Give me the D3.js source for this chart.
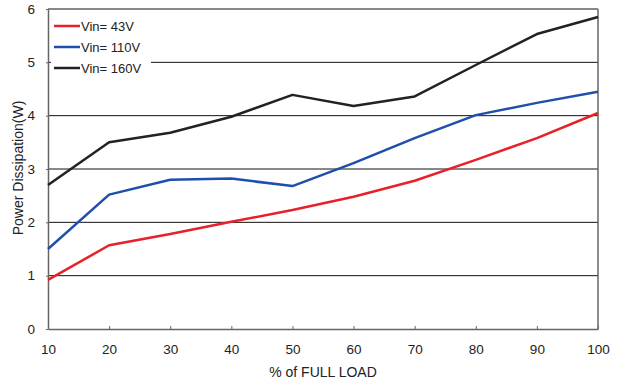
<!DOCTYPE html>
<html>
<head>
<meta charset="utf-8">
<script src="https://cdn.jsdelivr.net/npm/d3@7"></script>
<style>
body { margin: 0; background: #fff; }
text { font-family: "Liberation Sans", Arial, sans-serif; fill: #222; }
</style>
</head>
<body>
<div id="chart"></div>
<script>
// data
var loads = [10, 20, 30, 40, 50, 60, 70, 80, 90, 100];
var vin43 = [0.92, 1.57, 1.78, 2.01, 2.23, 2.48, 2.78, 3.17, 3.58, 4.05];
var vin110 = [1.5, 2.52, 2.8, 2.82, 2.68, 3.11, 3.58, 4.01, 4.24, 4.45];
var vin160 = [2.7, 3.5, 3.68, 3.98, 4.39, 4.18, 4.36, 4.95, 5.53, 5.85];
var seriesNames = ["Vin= 43V", "Vin= 110V", "Vin= 160V"];
var seriesColors = ["#e8202a", "#1f4fad", "#222222"];
var yTicks = [0, 1, 2, 3, 4, 5, 6];

var width = 617, height = 382;
var margin = { left: 48, right: 19, top: 9, bottom: 53 };
var font = "Liberation Sans, Arial, sans-serif";

var svg = d3.select("#chart").append("svg")
    .attr("width", width)
    .attr("height", height);

var x = d3.scaleLinear().domain([10, 100]).range([margin.left, width - margin.right]);
var y = d3.scaleLinear().domain([0, 6]).range([height - margin.bottom, margin.top]);

// horizontal grid + top border
svg.append("g")
   .selectAll("line")
   .data(yTicks.slice(1))
   .enter()
   .append("line")
   .attr("x1", x(10)).attr("x2", x(100))
   .attr("y1", d => y(d)).attr("y2", d => y(d))
   .attr("stroke", "#111")
   .attr("stroke-width", 1);

// right border
svg.append("line")
   .attr("x1", x(100)).attr("x2", x(100))
   .attr("y1", y(0)).attr("y2", y(6))
   .attr("stroke", "#666").attr("stroke-width", 1.5);

// x axis, ticks pointing up
var xAxis = svg.append("g")
    .attr("transform", "translate(0," + y(0) + ")")
    .call(d3.axisBottom(x).tickValues(loads).tickSizeInner(-3).tickSizeOuter(0).tickPadding(15));
xAxis.select(".domain").attr("stroke", "#666").attr("stroke-width", 1.5);
xAxis.selectAll(".tick line").attr("stroke", "#666");
xAxis.selectAll("text").attr("font-size", 13.5).attr("fill", "#222")
     .attr("font-family", font);

// y axis
var yAxis = svg.append("g")
    .attr("transform", "translate(" + x(10) + ",0)")
    .call(d3.axisLeft(y).tickValues(yTicks).tickFormat(d3.format("d"))
            .tickSizeInner(2).tickSizeOuter(0).tickPadding(11));
yAxis.select(".domain").attr("stroke", "#666").attr("stroke-width", 1.5);
yAxis.selectAll(".tick line").attr("stroke", "#666");
yAxis.selectAll("text").attr("font-size", 13.5).attr("fill", "#222")
     .attr("font-family", font);

// lines
var allSeries = [vin43, vin110, vin160];
var line = d3.line()
    .x((d, i) => x(loads[i]))
    .y(d => y(d));

svg.append("g")
   .selectAll("path")
   .data(allSeries)
   .enter()
   .append("path")
   .attr("d", d => line(d))
   .attr("fill", "none")
   .attr("stroke", (d, i) => seriesColors[i])
   .attr("stroke-width", 2.5)
   .attr("stroke-linejoin", "round");

// legend
var legend = svg.append("g").attr("transform", "translate(51,13)");
legend.append("rect")
      .attr("width", 100).attr("height", 63)
      .attr("fill", "#fff");
var item = legend.selectAll("g.item")
    .data(seriesNames)
    .enter()
    .append("g")
    .attr("class", "item")
    .attr("transform", (d, i) => "translate(0," + (13 + i * 21) + ")");
item.append("line")
    .attr("x1", 3).attr("x2", 29)
    .attr("stroke", (d, i) => seriesColors[i])
    .attr("stroke-width", 2.5);
item.append("text")
    .attr("x", 30).attr("y", 4.5)
    .attr("font-size", 13)
    .text(d => d);

// axis titles
svg.append("text")
   .attr("x", (x(10) + x(100)) / 2).attr("y", 377)
   .attr("text-anchor", "middle")
   .attr("font-size", 14)
   .text("% of FULL LOAD");

svg.append("text")
   .attr("transform", "translate(23,168) rotate(-90)")
   .attr("text-anchor", "middle")
   .attr("font-size", 14)
   .text("Power Dissipation(W)");
</script>
</body>
</html>
